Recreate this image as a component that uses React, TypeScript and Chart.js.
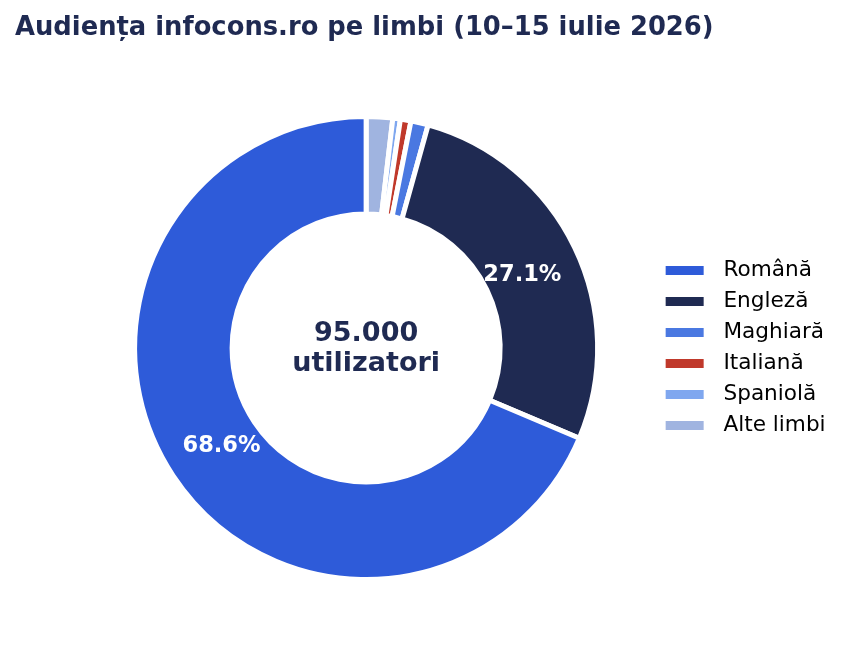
import React, { useEffect, useRef } from "react";
import { Chart, registerables } from "chart.js";

Chart.register(...registerables);

const TITLE = "Audiența infocons.ro pe limbi (10–15 iulie 2026)";
const CATEGORIES = ["Română", "Engleză", "Maghiară", "Italiană", "Spaniolă", "Alte limbi"];
const USERS = [65200, 25700, 1150, 700, 500, 1750];
const COLORS = ["#2e5bd9", "#1f2a52", "#4a78e1", "#c0392b", "#7fa7ef", "#a0b4e0"];
const CENTER_UNIT = "utilizatori";
const LABEL_MIN_SHARE = 10;

const NAVY = "#1f2a52";
const FONT = "'DejaVu Sans', sans-serif";

function formatThousands(n: number): string {
  return String(Math.round(n)).replace(/\B(?=(\d{3})+(?!\d))/g, ".");
}

const titlePlugin = {
  id: "leftTitle",
  afterDraw(chart: any) {
    const ctx = chart.ctx;
    ctx.save();
    ctx.font = `bold 25.8px ${FONT}`;
    ctx.fillStyle = NAVY;
    ctx.textAlign = "left";
    ctx.textBaseline = "alphabetic";
    ctx.fillText(TITLE, 15, 35);
    ctx.restore();
  },
};

const ringLabelsPlugin = {
  id: "ringLabels",
  afterDatasetsDraw(chart: any) {
    const meta = chart.getDatasetMeta(0);
    const data = chart.data.datasets[0].data as number[];
    const total = data.reduce((a, b) => a + b, 0);
    const ctx = chart.ctx;
    ctx.save();
    ctx.font = `bold 22.5px ${FONT}`;
    ctx.fillStyle = "#ffffff";
    ctx.textAlign = "center";
    ctx.textBaseline = "alphabetic";
    let cx = 0;
    let cy = 0;
    meta.data.forEach((arc: any, i: number) => {
      const p = arc.getProps(["x", "y", "startAngle", "endAngle"], true);
      cx = p.x;
      cy = p.y;
      const pct = (data[i] / total) * 100;
      if (pct < LABEL_MIN_SHARE) return;
      const mid = (p.startAngle + p.endAngle) / 2;
      const r = 173.5;
      ctx.fillText(pct.toFixed(1) + "%", p.x + Math.cos(mid) * r, p.y + Math.sin(mid) * r + 8.2);
    });
    ctx.font = `bold 27px ${FONT}`;
    ctx.fillStyle = NAVY;
    ctx.fillText(formatThousands(total), cx, cy - 7);
    ctx.fillText(CENTER_UNIT, cx, cy + 23);
    ctx.restore();
  },
};

export default function App() {
  const canvasRef = useRef<HTMLCanvasElement | null>(null);

  useEffect(() => {
    if (!canvasRef.current) return;
    const labels = [...CATEGORIES].reverse();
    const values = [...USERS].reverse();
    const colors = [...COLORS].reverse();
    const chart = new Chart(canvasRef.current, {
      type: "doughnut",
      data: {
        labels,
        datasets: [
          {
            data: values,
            backgroundColor: colors,
            borderColor: "#ffffff",
            borderWidth: 5,
          },
        ],
      },
      options: {
        animation: false,
        responsive: true,
        maintainAspectRatio: false,
        events: [],
        cutout: "57.9%",
        layout: { padding: { top: 114, bottom: 70, left: 76, right: 15.4 } },
        plugins: {
          title: { display: false },
          tooltip: { enabled: false },
          legend: {
            display: true,
            position: "right",
            align: "center",
            reverse: true,
            labels: {
              boxWidth: 38,
              boxHeight: 9,
              padding: 9.4,
              color: "#000000",
              font: { family: FONT, size: 21.6 },
              generateLabels: (c: any) => {
                const base = (Chart as any).overrides.doughnut.plugins.legend.labels.generateLabels(c);
                return base.map((it: any) => ({ ...it, text: " \u200A" + it.text, lineWidth: 0 }));
              },
            },
          },
        },
      },
      plugins: [titlePlugin, ringLabelsPlugin],
    });
    return () => chart.destroy();
  }, []);

  return (
    <div style={{ position: "absolute", left: 0, top: 0, width: 851, height: 652, background: "#ffffff" }}>
      <canvas ref={canvasRef} />
    </div>
  );
}
